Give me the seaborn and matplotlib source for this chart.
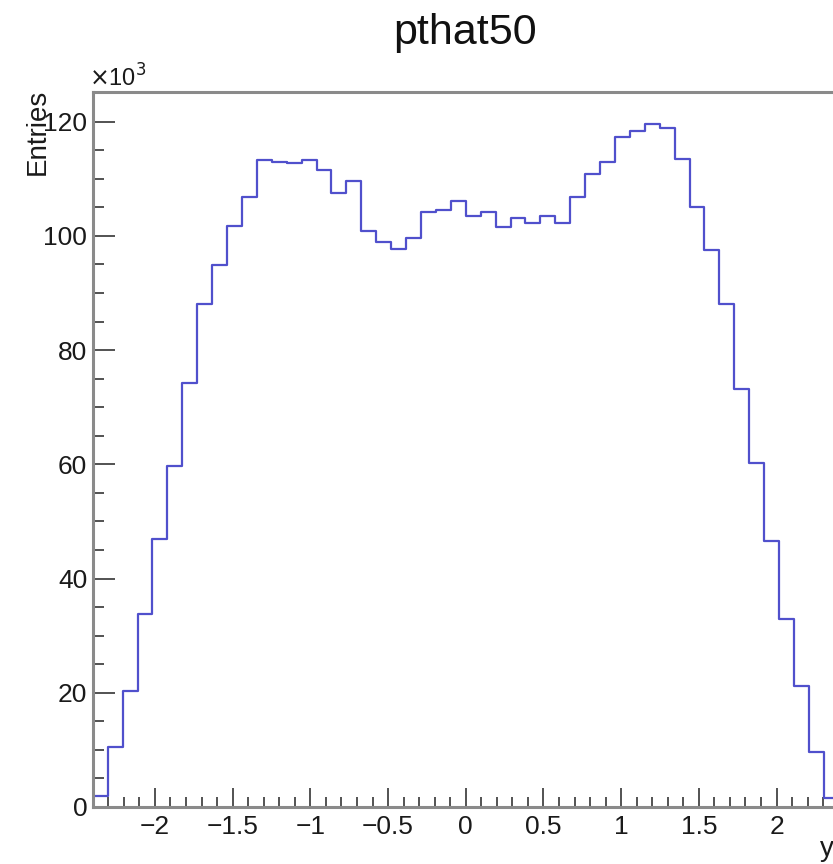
import numpy as np
import pandas as pd
import matplotlib
matplotlib.use("Agg")
import matplotlib.pyplot as plt
import seaborn as sns
from matplotlib.ticker import MultipleLocator, FuncFormatter

# ---- data (entries per bin, in units of 10^3) ----
x_min, x_max, n_bins = -2.4, 2.4, 50
entries_k = [1.9, 10.5, 20.3, 33.8, 47.0, 59.7, 74.3, 88.1, 94.9, 101.7,
             106.8, 113.3, 113.0, 112.7, 113.3, 111.6, 107.6, 109.6, 100.9, 99.0,
             97.7, 99.6, 104.1, 104.6, 106.2, 103.5, 104.1, 101.5, 103.1, 102.2,
             103.4, 102.3, 106.8, 110.8, 113.0, 117.4, 118.4, 119.6, 118.9, 113.5,
             105.0, 97.5, 88.1, 73.2, 60.2, 46.5, 32.9, 21.2, 9.7, 1.6]
title = "pthat50"
y_label = "Entries"
x_label = "y"
x_major_ticks = [-2, -1.5, -1, -0.5, 0, 0.5, 1, 1.5, 2]

edges = np.linspace(x_min, x_max, n_bins + 1)
centers = 0.5 * (edges[:-1] + edges[1:])
df = pd.DataFrame({"y": centers, "w": entries_k})

sns.set_theme(style="white")
plt.rcParams["font.family"] = ["Liberation Sans", "DejaVu Sans"]

W, H = 833, 864
fig = plt.figure(figsize=(W / 100, H / 100), dpi=100)
left_px, right_px, top_px, bottom_px = 92.8, 838.7, 92, 807
ax = fig.add_axes([left_px / W, 1 - bottom_px / H,
                   (right_px - left_px) / W, (bottom_px - top_px) / H])

sns.histplot(data=df, x="y", weights="w", bins=n_bins, binrange=(x_min, x_max),
             element="step", fill=False, color="#5050cc", linewidth=1.6, ax=ax)

ax.set_xlim(x_min, x_max)
ax.set_ylim(0, 125.2)
ax.set_xticks(x_major_ticks)
ax.xaxis.set_minor_locator(MultipleLocator(0.1))
ax.yaxis.set_major_locator(MultipleLocator(20))
ax.yaxis.set_minor_locator(MultipleLocator(5))
ax.xaxis.set_major_formatter(FuncFormatter(lambda v, p: f"{v:g}".replace("-", "\u2212")))
ax.set_xlabel("")
ax.set_ylabel("")

for s in ["left", "bottom", "top", "right"]:
    ax.spines[s].set_color("#8a8a8a")
    ax.spines[s].set_linewidth(2.2)

ax.tick_params(axis="both", which="both", direction="in", color="#444444",
               labelsize=19, labelcolor="#1a1a1a", bottom=True, left=True,
               top=False, right=False)
ax.tick_params(axis="x", which="major", length=14, width=1.3, pad=6)
ax.tick_params(axis="x", which="minor", length=7, width=1.3)
ax.tick_params(axis="y", which="major", length=16, width=1.3, pad=4)
ax.tick_params(axis="y", which="minor", length=8, width=1.3)

fig.text(465.5 / W, 1 - 33 / H, title, ha="center", va="center", fontsize=31, color="#111111")
fig.text(38 / W, 1 - 89 / H, y_label, rotation=90, ha="center", va="top", fontsize=20, color="#1a1a1a")
fig.text(89 / W, 1 - 78 / H, r"$\times$10$^{3}$", ha="left", va="center", fontsize=17, color="#1a1a1a")
fig.text(820 / W, 1 - 849 / H, x_label, ha="left", va="center", fontsize=20, color="#1a1a1a")

fig.savefig("out.png", dpi=100)
